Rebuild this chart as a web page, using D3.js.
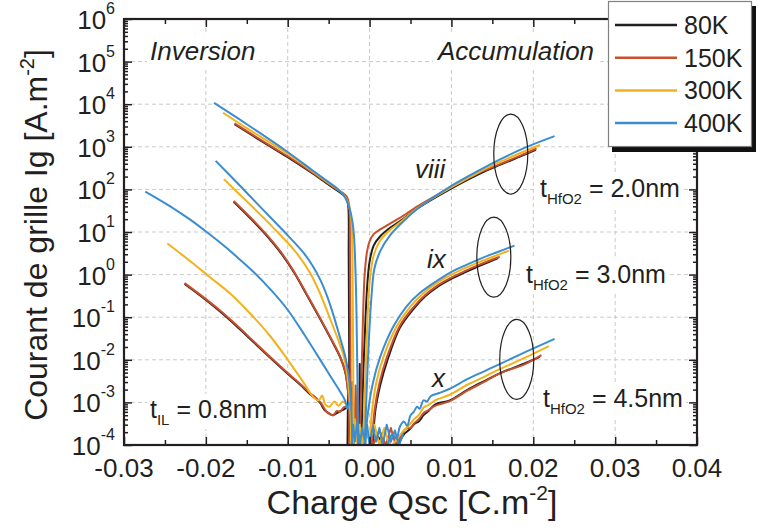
<!DOCTYPE html>
<html><head><meta charset="utf-8">
<script src="https://cdn.jsdelivr.net/npm/d3@7"></script>
<style>
body{margin:0;background:#fff}
text{font-family:"Liberation Sans",Arial,Helvetica,sans-serif;fill:#231f20}
</style>
</head><body>
<svg id="chart" width="758" height="532"></svg>
<script>
// ---------------- DATA ----------------
const temperatures = ["80K", "150K", "300K", "400K"];
const xTicks = [-0.03, -0.02, -0.01, 0.00, 0.01, 0.02, 0.03, 0.04];
const xTickLabels = ["-0.03", "-0.02", "-0.01", "0.00", "0.01", "0.02", "0.03", "0.04"];
const yTickExponents = [-4, -3, -2, -1, 0, 1, 2, 3, 4, 5, 6];

// [Qsc (C.m-2), Ig (A.m-2)]
// t_HfO2 = 2.0 nm (viii)
const viii_inv_80K = [[-0.0165,3.39e3],[-0.0125,1.12e3],[-0.0101,589],[-0.0070,240],[-0.0050,129],[-0.0040,95.5],[-0.0033,75.9],[-0.0028,60.3],[-0.0026,39.8],[-0.00255,3.16],[-0.0025,0.0316],[-0.00245,1e-4]];
const viii_inv_150K = [[-0.0165,3.55e3],[-0.0125,1.17e3],[-0.0101,617],[-0.0070,251],[-0.0050,135],[-0.0040,100],[-0.0033,83.2],[-0.0028,67.6],[-0.0025,44.7],[-0.0024,6.31],[-0.00235,0.1],[-0.0023,1e-4]];
const viii_inv_300K = [[-0.0179,6.31e3],[-0.0150,2.75e3],[-0.0101,708],[-0.0070,269],[-0.0050,141],[-0.0040,105],[-0.0032,75.9],[-0.0027,52.5],[-0.0024,33.1],[-0.0022,15.8],[-0.0021,3.98],[-0.00205,0.316],[-0.0020,0.01],[-0.00195,1e-4]];
const viii_inv_400K = [[-0.0190,1.07e4],[-0.0150,3.39e3],[-0.0101,776],[-0.0070,282],[-0.0050,148],[-0.0040,107],[-0.0033,79.4],[-0.0028,55.0],[-0.0024,33.1],[-0.0021,17.8],[-0.0019,7.94],[-0.0017,0.891],[-0.0016,0.126],[-0.0015,0.00631],[-0.0014,1e-4]];
const viii_acc_80K = [[-0.0010,1e-4],[-0.0008,0.00316],[-0.0006,0.0316],[-0.0003,0.501],[0.0,2.0],[0.0005,4.79],[0.0013,7.94],[0.0025,12.6],[0.0037,17.8],[0.0060,37.2],[0.0098,100],[0.0135,234],[0.0160,380],[0.0185,603],[0.0203,851]];
const viii_acc_150K = [[-0.0012,1e-4],[-0.0010,0.00316],[-0.0008,0.1],[-0.0006,1],[-0.0003,3.55],[0.0,6.03],[0.0005,8.91],[0.0013,11.5],[0.0025,15.8],[0.0037,21.4],[0.0060,41.7],[0.0098,107],[0.0135,251],[0.0160,398],[0.0185,631],[0.0204,912]];
const viii_acc_300K = [[-0.0008,1e-4],[-0.0004,0.0158],[0.0,0.631],[0.0005,2.82],[0.0013,6.31],[0.0025,11.2],[0.0037,16.6],[0.0060,38.0],[0.0098,107],[0.0135,263],[0.0160,447],[0.0185,724],[0.0208,1.10e3]];
const viii_acc_400K = [[-0.0006,1e-4],[-0.0002,0.01],[0.0002,0.251],[0.0006,1.41],[0.0013,3.55],[0.0025,8.32],[0.0037,14.8],[0.0060,37.2],[0.0098,115],[0.0135,288],[0.0160,513],[0.0190,955],[0.0226,1.78e3]];

// t_HfO2 = 3.0 nm (ix)
const ix_inv_80K = [[-0.0166,51.3],[-0.0145,20.4],[-0.0125,7.94],[-0.0108,3.16],[-0.0092,1.10],[-0.0077,0.339],[-0.0061,0.0955],[-0.0047,0.0302],[-0.0036,0.0115],[-0.0030,0.00537],[-0.0027,0.0024],[-0.0025,6.03e-4],[-0.00245,1e-4]];
const ix_inv_150K = [[-0.0166,53.7],[-0.0145,21.4],[-0.0125,8.32],[-0.0108,3.31],[-0.0092,1.15],[-0.0077,0.355],[-0.0061,0.1],[-0.0047,0.0316],[-0.0036,0.012],[-0.0030,0.00562],[-0.0027,0.00251],[-0.0025,6.31e-4],[-0.0024,1e-4]];
const ix_inv_300K = [[-0.0178,174],[-0.0150,52.5],[-0.0120,14.1],[-0.0091,3.55],[-0.0073,1.12],[-0.0061,0.38],[-0.0049,0.1],[-0.0039,0.0316],[-0.0031,0.0112],[-0.0027,0.00398],[-0.0024,0.001],[-0.0022,1e-4]];
const ix_inv_400K = [[-0.0188,468],[-0.0160,132],[-0.0140,52.5],[-0.0118,19.1],[-0.0100,8.32],[-0.0081,3.31],[-0.0070,1.66],[-0.0060,0.741],[-0.0052,0.316],[-0.0045,0.126],[-0.0037,0.038],[-0.0030,0.0126],[-0.0026,0.005],[-0.0023,0.00126],[-0.0021,1e-4]];
const ix_acc_80K = [[0.0004,1e-4],[0.0007,6.31e-4],[0.0013,0.00251],[0.0022,0.01],[0.0037,0.0562],[0.0053,0.151],[0.0068,0.309],[0.0082,0.501],[0.0098,0.759],[0.0115,1.10],[0.0135,1.62],[0.0157,2.45]];
const ix_acc_150K = [[0.0003,1e-4],[0.0006,6.31e-4],[0.0012,0.00282],[0.0021,0.0112],[0.0037,0.0631],[0.0053,0.166],[0.0068,0.331],[0.0082,0.537],[0.0098,0.813],[0.0115,1.17],[0.0135,1.74],[0.0159,2.63]];
const ix_acc_300K = [[0.0,1e-4],[0.0003,6.31e-4],[0.0008,0.00282],[0.0017,0.0117],[0.0033,0.0603],[0.0049,0.170],[0.0065,0.355],[0.0082,0.631],[0.0098,0.955],[0.0115,1.38],[0.0135,2.0],[0.0155,2.82],[0.0170,3.63]];
const ix_acc_400K = [[-0.0005,1e-4],[-0.0003,3.98e-4],[0.0004,0.00282],[0.0013,0.0117],[0.0029,0.0603],[0.0045,0.178],[0.0061,0.363],[0.0082,0.708],[0.0098,1.10],[0.0115,1.58],[0.0135,2.34],[0.0155,3.31],[0.0177,4.79]];

// t_HfO2 = 4.5 nm (x)
const x_inv_80K = [[-0.0226,0.603],[-0.0205,0.302],[-0.0183,0.138],[-0.0163,0.0631],[-0.01425,0.0269],[-0.0122,0.0115],[-0.0101,0.0049],[-0.0085,0.00263],[-0.0073,0.00158],[-0.0065,0.0012],[-0.0060,9.55e-4],[-0.0055,6.61e-4],[-0.0050,5.62e-4],[-0.0045,5.01e-4],[-0.0040,5.62e-4],[-0.0035,6.31e-4],[-0.0030,7.08e-4],[-0.0027,7.94e-4]];
const x_inv_150K = [[-0.0226,0.631],[-0.0205,0.316],[-0.0183,0.145],[-0.0163,0.0661],[-0.01425,0.0282],[-0.0122,0.012],[-0.0101,0.00513],[-0.0085,0.00275],[-0.0073,0.00166],[-0.0065,0.00126],[-0.0060,0.001],[-0.0055,7.08e-4],[-0.0052,5.89e-4],[-0.0048,5.25e-4],[-0.0044,5.01e-4],[-0.0040,6.31e-4],[-0.0036,6.03e-4],[-0.0032,7.59e-4],[-0.0028,7.94e-4]];
const x_inv_300K = [[-0.0247,5.37],[-0.0222,2.29],[-0.0195,0.871],[-0.0170,0.355],[-0.0145,0.117],[-0.0122,0.0372],[-0.0101,0.0107],[-0.0080,0.00282],[-0.0069,0.00135],[-0.0062,0.00112],[-0.0058,0.00145],[-0.0054,8.91e-4],[-0.0049,7.94e-4],[-0.0043,0.00105],[-0.0038,8.32e-4],[-0.0033,0.00105],[-0.0028,8.91e-4]];
const x_inv_400K = [[-0.0274,89.1],[-0.0245,41.7],[-0.0220,20.0],[-0.0199,10.0],[-0.0180,5.13],[-0.0160,2.40],[-0.0142,1.17],[-0.0120,0.427],[-0.0101,0.158],[-0.0080,0.0398],[-0.0061,0.0105],[-0.0048,0.00417],[-0.0036,0.00178],[-0.0030,0.00112],[-0.0027,7.08e-4],[-0.0025,0.001]];
const x_acc_80K = [[0.0035,1e-4],[0.0042,1.78e-4],[0.0048,2.24e-4],[0.0055,3.16e-4],[0.0060,3.55e-4],[0.0066,5.01e-4],[0.0072,6.31e-4],[0.0080,8.91e-4],[0.0098,0.00112],[0.0120,0.002],[0.0140,0.00316],[0.0159,0.00479],[0.0190,0.00832],[0.0208,0.0117]];
const x_acc_150K = [[0.0032,1e-4],[0.0038,1.58e-4],[0.0044,2.40e-4],[0.0050,2.51e-4],[0.0055,3.31e-4],[0.0060,3.98e-4],[0.0066,5.62e-4],[0.0072,6.61e-4],[0.0080,8.32e-4],[0.0098,0.00107],[0.0120,0.00191],[0.0140,0.00302],[0.0159,0.00479],[0.0190,0.00794],[0.0210,0.0129]];
const x_acc_300K = [[0.0028,1e-4],[0.0034,1.41e-4],[0.0040,2.0e-4],[0.0045,2.51e-4],[0.0050,3.16e-4],[0.0055,4.17e-4],[0.0060,5.01e-4],[0.0066,7.59e-4],[0.0072,8.71e-4],[0.0080,0.00112],[0.0098,0.00151],[0.0120,0.00263],[0.0140,0.00398],[0.0159,0.00603],[0.0190,0.0112],[0.0219,0.0209]];
const x_acc_400K = [[0.0022,1e-4],[0.0028,1.78e-4],[0.0033,1.41e-4],[0.0037,2.69e-4],[0.0042,3.55e-4],[0.0046,2.82e-4],[0.0050,5.01e-4],[0.0054,6.03e-4],[0.0058,7.94e-4],[0.0061,7.08e-4],[0.0066,0.00112],[0.0070,0.00105],[0.0075,0.00141],[0.0085,0.00166],[0.0098,0.00209],[0.0120,0.00355],[0.0140,0.00537],[0.0159,0.00794],[0.0190,0.0151],[0.0226,0.0309]];

// noise floor near flat-band (all thicknesses)
const floor_80K = [[-0.0027,1e-4],[-0.0026,7e-3],[-0.00255,1e-4],[-0.0022,1e-4],[-0.0021,2e-3],[-0.0020,1e-4],[-0.0013,1e-4],[-0.0012,8e-3],[-0.0011,1e-4],[-0.0004,2e-4],[0.0003,1e-4],[0.0010,1.6e-4],[0.0018,1e-4]];
const floor_150K = [[-0.0025,1e-4],[-0.0024,1.5e-3],[-0.0023,2e-4],[-0.0021,3e-3],[-0.0019,1e-4],[-0.0017,2.5e-3],[-0.0015,1.2e-4],[-0.0012,3e-4],[-0.0008,1e-4],[-0.0003,2e-4],[0.0004,1e-4],[0.0012,2.2e-4],[0.0020,1e-4],[0.0026,2.5e-4],[0.0032,1e-4]];
const floor_300K = [[-0.0023,1e-4],[-0.0022,8e-4],[-0.0020,1.5e-4],[-0.0018,4e-4],[-0.0015,1e-4],[-0.0012,3e-4],[-0.0009,1e-4],[-0.0005,2.5e-4],[0.0,1.2e-4],[0.0006,3e-4],[0.0012,1e-4],[0.0018,2.5e-4],[0.0024,1e-4],[0.0030,2e-4]];
const floor_400K = [[-0.0022,1e-4],[-0.0020,3e-4],[-0.0018,1.2e-4],[-0.0015,3.5e-4],[-0.0012,1e-4],[-0.0009,2.5e-4],[-0.0006,1.3e-4],[-0.0003,3e-4],[0.0,1e-4],[0.0004,2.8e-4],[0.0008,1.2e-4],[0.0012,2.5e-4],[0.0016,1e-4],[0.0021,3e-4],[0.0026,1.2e-4],[0.0031,2.2e-4],[0.0036,1e-4],[0.0041,1.8e-4]];

// annotation anchors [Qsc, Ig]
const ellipseCenters = [[0.01725,676],[0.01518,2.57],[0.01798,0.0102]];

// ---------------- STYLE ----------------
const colors = {"80K":"#231f20","150K":"#c8502b","300K":"#f2b21b","400K":"#3b8dd0"};
const svg = d3.select("#chart");
const X0 = 124, X1 = 697, Y0 = 445, Y1 = 19;
const x = d3.scaleLinear().domain([-0.03, 0.04]).range([X0, X1]);
const y = d3.scaleLog().domain([1e-4, 1e6]).range([Y0, Y1]);

const seriesByTemp = {
  "80K":  [floor_80K, viii_inv_80K, viii_acc_80K, ix_inv_80K, ix_acc_80K, x_inv_80K, x_acc_80K],
  "150K": [floor_150K, viii_inv_150K, viii_acc_150K, ix_inv_150K, ix_acc_150K, x_inv_150K, x_acc_150K],
  "300K": [floor_300K, viii_inv_300K, viii_acc_300K, ix_inv_300K, ix_acc_300K, x_inv_300K, x_acc_300K],
  "400K": [floor_400K, viii_inv_400K, viii_acc_400K, ix_inv_400K, ix_acc_400K, x_inv_400K, x_acc_400K]
};

// ---------------- GRID ----------------
const grid = svg.append("g").attr("stroke","#c9c9c9").attr("stroke-width",1).attr("stroke-dasharray","4,3");
xTicks.slice(1,-1).forEach(v => grid.append("line").attr("x1",x(v)).attr("x2",x(v)).attr("y1",Y0).attr("y2",Y1));
yTickExponents.slice(1,-1).forEach(e => grid.append("line").attr("x1",X0).attr("x2",X1).attr("y1",y(Math.pow(10,e))).attr("y2",y(Math.pow(10,e))));

// ---------------- ANNOTATIONS ----------------
const annot = svg.append("g");
function label(parts, px, py, opts) {
  const g = annot.append("g");
  const t = g.append("text").attr("x", px).attr("y", py).attr("font-size", opts.size)
    .attr("font-style", opts.italic ? "italic" : "normal");
  parts.forEach(p => {
    const ts = t.append("tspan").text(p.t);
    if (p.sub) ts.attr("font-size", 15).attr("dy", 7);
    if (p.back) ts.attr("dy", -7);
  });
  if (opts.bg) {
    const b = t.node().getBBox();
    g.insert("rect", "text").attr("x", b.x - 3).attr("y", b.y - 1).attr("width", b.width + 6)
      .attr("height", b.height + 2).attr("fill", "#fff");
  }
}
label([{t:"Inversion"}], 150, 60, {size:26, italic:true, bg:true});
label([{t:"Accumulation"}], 438, 60, {size:26, italic:true, bg:true});
label([{t:"viii"}], 415, 178, {size:26, italic:true, bg:true});
label([{t:"ix"}], 427, 268, {size:26, italic:true, bg:true});
label([{t:"x"}], 432, 387, {size:26, italic:true, bg:true});
label([{t:"t"},{t:"HfO2",sub:true},{t:" = 2.0nm",back:true}], 540, 197, {size:25, bg:true});
label([{t:"t"},{t:"HfO2",sub:true},{t:" = 3.0nm",back:true}], 526, 283, {size:25, bg:true});
label([{t:"t"},{t:"HfO2",sub:true},{t:" = 4.5nm",back:true}], 543, 407, {size:25, bg:true});
label([{t:"t"},{t:"IL",sub:true},{t:" = 0.8nm",back:true}], 150, 418, {size:25, bg:true});

// ---------------- CURVES ----------------
svg.append("clipPath").attr("id","plotclip").append("rect")
  .attr("x",X0).attr("y",Y1).attr("width",X1-X0).attr("height",Y0-Y1);
const curves = svg.append("g").attr("clip-path","url(#plotclip)");
const lineSmooth = d3.line().x(d => x(d[0])).y(d => y(d[1])).curve(d3.curveCatmullRom.alpha(0.5));
const lineRaw = d3.line().x(d => x(d[0])).y(d => y(d[1]));
temperatures.forEach(T => {
  seriesByTemp[T].forEach((s, k) => {
    curves.append("path").attr("d", (k === 0 ? lineRaw : lineSmooth)(s))
      .attr("fill","none").attr("stroke", colors[T]).attr("stroke-width", 2)
      .attr("stroke-linejoin","round");
  });
});

// ellipses
ellipseCenters.forEach(c => svg.append("ellipse").attr("cx", x(c[0])).attr("cy", y(c[1]))
  .attr("rx", 17).attr("ry", 40).attr("fill","none").attr("stroke","#231f20").attr("stroke-width",1.2));

// ---------------- AXES ----------------
const minorX = d3.range(-0.025, 0.04, 0.01).map(v => +v.toFixed(3));
const minorY = [];
yTickExponents.slice(0,-1).forEach(e => { for (let m = 2; m <= 9; m++) minorY.push(m * Math.pow(10, e)); });
const majorY = yTickExponents.map(e => Math.pow(10, e));

function styleAxis(g) { g.select(".domain").remove(); g.selectAll("line").attr("stroke","#231f20").attr("stroke-width",1.5); g.selectAll("text").remove(); }
svg.append("g").attr("transform",`translate(0,${Y0})`).call(d3.axisBottom(x).tickValues(xTicks).tickSize(-8)).call(styleAxis);
svg.append("g").attr("transform",`translate(0,${Y0})`).call(d3.axisBottom(x).tickValues(minorX).tickSize(-5)).call(styleAxis);
svg.append("g").attr("transform",`translate(0,${Y1})`).call(d3.axisTop(x).tickValues(xTicks).tickSize(-8)).call(styleAxis);
svg.append("g").attr("transform",`translate(0,${Y1})`).call(d3.axisTop(x).tickValues(minorX).tickSize(-5)).call(styleAxis);
svg.append("g").attr("transform",`translate(${X0},0)`).call(d3.axisLeft(y).tickValues(majorY).tickSize(-8)).call(styleAxis);
svg.append("g").attr("transform",`translate(${X0},0)`).call(d3.axisLeft(y).tickValues(minorY).tickSize(-4)).call(styleAxis);
svg.append("g").attr("transform",`translate(${X1},0)`).call(d3.axisRight(y).tickValues(majorY).tickSize(-8)).call(styleAxis);
svg.append("g").attr("transform",`translate(${X1},0)`).call(d3.axisRight(y).tickValues(minorY).tickSize(-4)).call(styleAxis);
svg.append("rect").attr("x",X0).attr("y",Y1).attr("width",X1-X0).attr("height",Y0-Y1)
  .attr("fill","none").attr("stroke","#231f20").attr("stroke-width",2.2);

// tick labels
xTicks.forEach((v,i) => svg.append("text").attr("x", x(v)).attr("y", 477).attr("text-anchor","middle")
  .attr("font-size",26).text(xTickLabels[i]));
yTickExponents.forEach(e => {
  const t = svg.append("text").attr("x", 115).attr("y", y(Math.pow(10,e)) + 10).attr("text-anchor","end").attr("font-size",26);
  t.append("tspan").text("10");
  t.append("tspan").attr("font-size",16).attr("dy",-15).text(e);
});

// axis titles
const xt = svg.append("text").attr("x", 412).attr("y", 514).attr("text-anchor","middle").attr("font-size",34);
xt.append("tspan").text("Charge Qsc [C.m");
xt.append("tspan").attr("font-size",21).attr("dy",-14).text("-2");
xt.append("tspan").attr("dy",14).text("]");
const yt = svg.append("text").attr("transform","translate(47,235) rotate(-90)").attr("text-anchor","middle").attr("font-size",32);
yt.append("tspan").text("Courant de grille Ig [A.m");
yt.append("tspan").attr("font-size",20).attr("dy",-13).text("-2");
yt.append("tspan").attr("dy",13).text("]");

// ---------------- LEGEND ----------------
const lg = svg.append("g");
lg.append("rect").attr("x",612).attr("y",6).attr("width",144).attr("height",146).attr("fill","#111");
lg.append("rect").attr("x",608.5).attr("y",1.5).attr("width",143).attr("height",145).attr("fill","#fff").attr("stroke","#808080").attr("stroke-width",1.2);
temperatures.forEach((T,i) => {
  const cy = 25 + i * 32.7;
  lg.append("line").attr("x1",615).attr("x2",677).attr("y1",cy).attr("y2",cy).attr("stroke",colors[T]).attr("stroke-width",2.5);
  lg.append("text").attr("x",684).attr("y",cy + 9).attr("font-size",25).text(T);
});
</script>
</body></html>
